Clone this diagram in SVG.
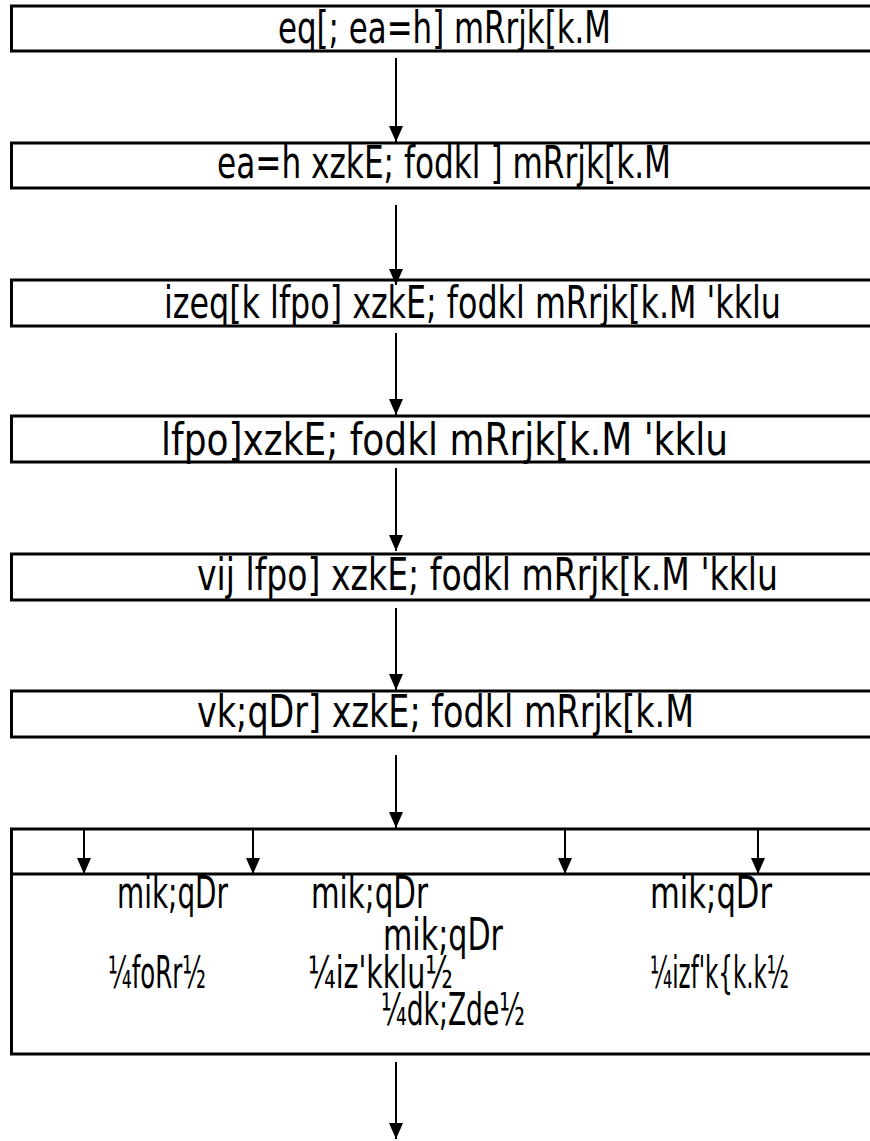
<svg xmlns="http://www.w3.org/2000/svg" width="870" height="1141" viewBox="0 0 870 1141">
<style>
  .box { fill: #fff; stroke: #000; stroke-width: 3; }
  .t { font-family: "DejaVu Sans", "Liberation Sans", sans-serif; font-size: 45px; fill: #000; }
  .c { stroke: #000; stroke-width: 2; fill: none; }
</style>
<defs>
  <marker id="ah" markerUnits="userSpaceOnUse" markerWidth="16" markerHeight="14" refX="16" refY="7" orient="auto" viewBox="0 0 16 14">
    <path d="M0,0 L16,7 L0,14 Z" fill="#000"/>
  </marker>
</defs>
<rect width="870" height="1141" fill="#fff"/>

<g id="n1">
  <rect class="box" x="11.5" y="6" width="870" height="45"/>
  <text class="t" x="278" y="43" textLength="333" lengthAdjust="spacingAndGlyphs">eq[; ea=h] mRrjk[k.M</text>
</g>
<g id="n2">
  <rect class="box" x="11.5" y="143" width="870" height="45"/>
  <text class="t" x="217" y="178" textLength="454" lengthAdjust="spacingAndGlyphs">ea=h xzkE; fodkl ] mRrjk[k.M</text>
</g>
<g id="n3">
  <rect class="box" x="11.5" y="280" width="870" height="46"/>
  <text class="t" x="164" y="318" textLength="617" lengthAdjust="spacingAndGlyphs">izeq[k lfpo] xzkE; fodkl  mRrjk[k.M 'kklu</text>
</g>
<g id="n4">
  <rect class="box" x="11.5" y="416" width="870" height="46"/>
  <text class="t" x="161" y="455" textLength="567" lengthAdjust="spacingAndGlyphs">lfpo]xzkE; fodkl  mRrjk[k.M 'kklu</text>
</g>
<g id="n5">
  <rect class="box" x="11.5" y="554" width="870" height="46"/>
  <text class="t" x="197" y="590" textLength="581" lengthAdjust="spacingAndGlyphs">vij lfpo] xzkE; fodkl  mRrjk[k.M 'kklu</text>
</g>
<g id="n6">
  <rect class="box" x="11.5" y="691" width="870" height="46"/>
  <text class="t" x="197" y="727" textLength="497" lengthAdjust="spacingAndGlyphs">vk;qDr] xzkE; fodkl  mRrjk[k.M</text>
</g>
<g id="n7">
  <rect class="box" x="11.5" y="829" width="870" height="225"/>
  <line x1="11.5" y1="874" x2="880" y2="874" stroke="#000" stroke-width="3"/>
  <text class="t" x="117" y="908" textLength="111" lengthAdjust="spacingAndGlyphs">mik;qDr</text>
  <text class="t" x="311" y="908" textLength="117" lengthAdjust="spacingAndGlyphs">mik;qDr</text>
  <text class="t" x="650" y="908" textLength="122" lengthAdjust="spacingAndGlyphs">mik;qDr</text>
  <text class="t" x="383" y="950" textLength="120" lengthAdjust="spacingAndGlyphs">mik;qDr</text>
  <text class="t" x="108" y="988" textLength="98" lengthAdjust="spacingAndGlyphs">¼foRr½</text>
  <text class="t" x="308" y="988" textLength="145" lengthAdjust="spacingAndGlyphs">¼iz'kklu½</text>
  <text class="t" x="650" y="988" textLength="139" lengthAdjust="spacingAndGlyphs">¼izf'k{k.k½</text>
  <text class="t" x="381" y="1025" textLength="144" lengthAdjust="spacingAndGlyphs">¼dk;Zde½</text>
</g>

<g id="connectors">
  <line class="c" x1="396" y1="58" x2="396" y2="142" marker-end="url(#ah)"/>
  <line class="c" x1="396" y1="205" x2="396" y2="285" marker-end="url(#ah)"/>
  <line class="c" x1="396" y1="333" x2="396" y2="415" marker-end="url(#ah)"/>
  <line class="c" x1="396" y1="468" x2="396" y2="551" marker-end="url(#ah)"/>
  <line class="c" x1="396" y1="608" x2="396" y2="690" marker-end="url(#ah)"/>
  <line class="c" x1="396" y1="755" x2="396" y2="828" marker-end="url(#ah)"/>
  <line class="c" x1="84" y1="830" x2="84" y2="874" marker-end="url(#ah)"/>
  <line class="c" x1="253" y1="830" x2="253" y2="874" marker-end="url(#ah)"/>
  <line class="c" x1="565" y1="830" x2="565" y2="874" marker-end="url(#ah)"/>
  <line class="c" x1="758" y1="830" x2="758" y2="874" marker-end="url(#ah)"/>
  <line class="c" x1="396" y1="1062" x2="396" y2="1139" marker-end="url(#ah)"/>
</g>
</svg>
